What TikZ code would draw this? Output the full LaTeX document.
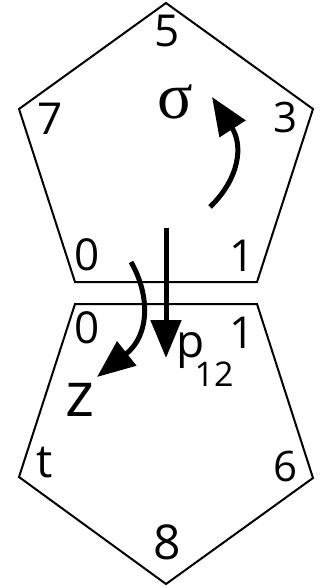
\documentclass[tikz,border=0pt]{standalone}
\usepackage{fontspec}
\setmainfont{Open Sans}
\newfontfamily\grkfont{Liberation Serif}
\usetikzlibrary{arrows.meta}
\tikzset{
  % outline of a pentagon face
  face/.style  = {draw=black, line width=2pt, line join=miter},
  % thick curved / straight move arrows
  move/.style  = {line width=5pt, -{Triangle[length=38pt,width=30pt]}},
  lbl/.style   = {inner sep=0pt, anchor=base, font=\fontsize{44}{46}\selectfont},
  lblsm/.style = {lbl, font=\fontsize{42}{44}\selectfont},
}
\begin{document}
\begin{tikzpicture}[x=1pt,y=-1pt]
\useasboundingbox (0,0) rectangle (320,588);
% upper face
\coordinate (u5) at (166,3);
\coordinate (u7) at (19,109);
\coordinate (u3) at (313,109);
\coordinate (u0) at (75,282);
\coordinate (u1) at (257,282);
\draw[face] (u5) -- (u3) -- (u1) -- (u0) -- (u7) -- cycle;
% lower face
\coordinate (l0) at (75,304);
\coordinate (l1) at (257,304);
\coordinate (l6) at (313,478);
\coordinate (l8) at (166,584);
\coordinate (lt) at (19,477);
\draw[face] (l0) -- (l1) -- (l6) -- (l8) -- (lt) -- cycle;
% vertex labels
\node[lbl] (n5) at (167,47) {5};
\node[lbl] (n7) at (50,135) {7};
\node[lblsm] (n3) at (286,133) {3};
\node[lbl] (n0u) at (87,270) {0};
\node[lbl] (n1u) at (242,271) {1};
\node[lbl] (n0l) at (87,343) {0};
\node[lbl] (n1l) at (242,348) {1};
\node[lbl, font=\fontsize{46}{48}\selectfont] (nt) at (45,477) {t};
\node[lblsm] (n6) at (286,481) {6};
\node[lbl, font=\fontsize{48}{50}\selectfont] (n8) at (167,559) {8};
% move labels
\node[lbl, font=\fontsize{66}{68}\selectfont\grkfont] (sig) at (175,119) {σ};
\node[lbl, font=\fontsize{62}{64}\selectfont] (zz) at (80,416) {z};
\node[lbl, font=\fontsize{46}{48}\selectfont] (pp) at (191,357) {p};
\node[lbl, font=\fontsize{34}{36}\selectfont] (psub) at (214,386) {12};
% arrows
\coordinate (sigS) at (210,207);
\coordinate (sigE) at (212,97);
\draw[move] (sigS) .. controls (240,178) and (243,145) .. (sigE);
\coordinate (zS) at (131,262);
\coordinate (zE) at (97,377);
\draw[move] (zS) .. controls (150,295) and (150,335) .. (zE);
\coordinate (pS) at (166,228);
\coordinate (pE) at (166,358);
\draw[move] (pS) -- (pE);
\end{tikzpicture}
\end{document}
